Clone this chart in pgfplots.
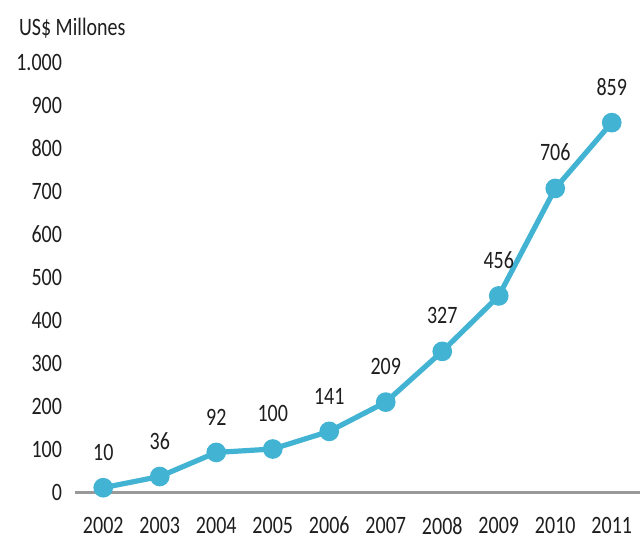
\documentclass[border=0pt]{standalone}
\usepackage{fontspec}
\setmainfont{Carlito}[FakeStretch=0.8]
\usepackage{pgfplots}
\pgfplotsset{compat=1.18}
\definecolor{linea}{HTML}{42B3D2}
\definecolor{texto}{HTML}{1E1E1E}

\begin{document}
\begin{tikzpicture}
\begin{axis}[
    scale only axis,
    width=282.5pt, height=215pt,
    xmin=-0.5, xmax=9.5,
    ymin=0, ymax=1000,
    axis x line=bottom,
    axis y line=left,
    y axis line style={draw=none},
    x axis line style={draw=gray!80, line width=1.5pt, -},
    major tick length=0pt,
    xtick={0,...,9},
    xticklabels={2002,2003,2004,2005,2006,2007,2008,2009,2010,2011},
    ytick={0,100,...,1000},
    /pgf/number format/1000 sep={.},
    /pgf/number format/assume math mode=true,
    tick label style={font=\fontsize{12.5}{14}\selectfont, text=texto},
    xticklabel style={yshift=-9pt},
    yticklabel style={xshift=-3pt},
    clip=false,
]
\addplot[color=linea, line width=2.6pt, mark=*, mark size=3.6pt,
    mark options={fill=linea, draw=linea},
    nodes near coords,
    every node near coord/.append style={font=\fontsize{12.5}{14}\selectfont, text=texto, yshift=9pt},
    point meta=explicit symbolic]
coordinates {
    (0,10) [10]
    (1,36) [36]
    (2,92) [92]
    (3,100) [100]
    (4,141) [141]
    (5,209) [209]
    (6,327) [327]
    (7,456) [456]
    (8,706) [706]
    (9,859) [859]
};
\end{axis}
\node[anchor=west, font=\fontsize{12.5}{14}\selectfont, text=texto] at (-31.5pt,232pt) {US\$ Millones};
\pgfresetboundingbox
\path[use as bounding box] (-37.5pt,-25.5pt) rectangle (284.5pt,246pt);
\end{tikzpicture}
\end{document}
